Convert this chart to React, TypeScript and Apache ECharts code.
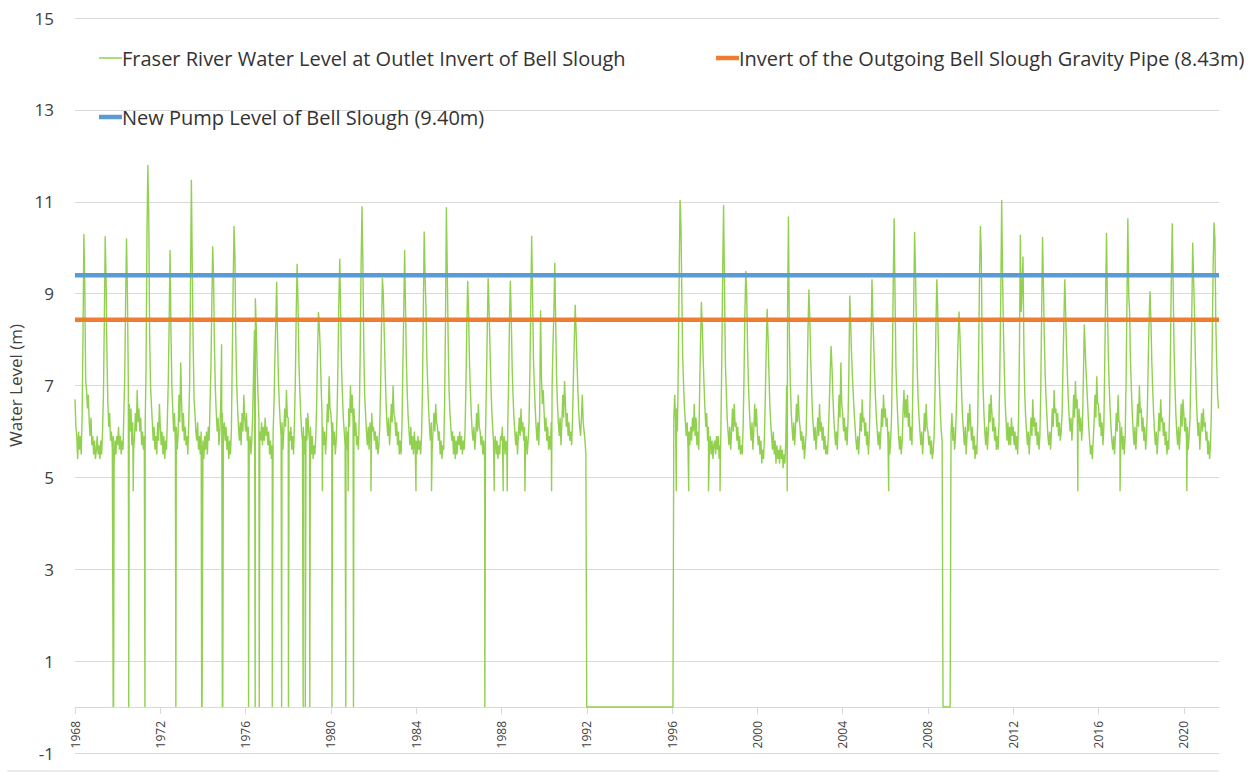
import React, { useEffect, useRef } from "react";
import * as echarts from "echarts";

// ---- Data (semi-monthly readings: index 0 = Jan 1, 1 = Jan 16, ... 23 = Dec 16) ----
const firstYear = 1968;

const levels1960s = [
  /*1968*/ [6.7, 6.1, 5.9, 5.4, 6.0, 5.6, 5.9, 5.5, 6.3, 8.1, 10.3, 9.2, 7.1, 6.9, 6.5, 6.8, 6.2, 5.9, 6.3, 5.7, 5.9, 5.5, 5.8, 5.4],
  /*1969*/ [5.6, 5.9, 5.5, 5.7, 5.4, 5.8, 5.5, 6.0, 6.8, 8.4, 10.25, 9.3, 7.6, 6.6, 6.1, 6.4, 5.8, 6.0, 5.6, 5.9, 5.3, 5.8, 5.5, 5.9],
];

const levels1970s = [
  /*1970*/ [5.7, 6.1, 5.6, 5.9, 5.5, 5.8, 5.6, 6.4, 7.2, 8.9, 10.2, 9.0, 7.1, 6.6, 6.0, 6.5, 5.7, 6.2, 5.6, 5.9, 6.4, 6.0, 6.9, 6.2],
  /*1971*/ [6.5, 6.0, 6.3, 5.7, 6.0, 5.6, 5.9, 6.2, 7.4, 10.3, 11.8, 10.7, 8.1, 7.0, 6.6, 6.2, 5.8, 6.1, 5.6, 5.9, 5.5, 6.2, 5.8, 6.6],
  /*1972*/ [6.1, 5.7, 6.0, 5.5, 5.9, 5.4, 5.8, 5.6, 6.3, 7.1, 8.4, 9.95, 8.2, 7.0, 6.5, 6.0, 6.4, 5.7, 6.1, 5.6, 5.9, 6.8, 6.2, 7.5],
  /*1973*/ [6.6, 6.0, 6.4, 5.8, 6.1, 5.7, 5.9, 5.5, 6.2, 7.0, 9.2, 11.48, 9.6, 7.9, 6.7, 6.4, 6.0, 5.8, 6.2, 5.6, 5.9, 5.5, 6.0, 5.7],
  /*1974*/ [5.8, 5.4, 5.9, 5.6, 6.0, 5.5, 6.1, 5.8, 6.6, 7.4, 8.8, 10.03, 9.3, 7.8, 6.9, 6.4, 6.0, 6.3, 5.7, 6.0, 6.6, 7.9, 6.4, 6.0],
  /*1975*/ [6.2, 5.8, 6.1, 5.6, 5.9, 5.4, 5.8, 5.5, 6.0, 7.6, 9.2, 10.47, 9.8, 8.0, 7.0, 6.5, 6.1, 5.8, 6.2, 5.7, 6.4, 6.0, 6.8, 6.3],
  /*1976*/ [6.0, 6.4, 5.8, 6.1, 5.6, 5.9, 5.5, 5.8, 6.4, 7.3, 8.2, 8.9, 8.3, 7.4, 6.8, 6.3, 6.0, 5.8, 6.2, 5.7, 6.1, 5.8, 6.3, 5.9],
  /*1977*/ [6.1, 5.7, 6.0, 5.5, 5.8, 5.4, 5.7, 6.0, 6.6, 7.6, 8.4, 9.26, 8.0, 7.1, 6.6, 6.2, 5.9, 6.2, 5.6, 6.0, 6.5, 6.1, 6.9, 6.3],
  /*1978*/ [6.3, 6.0, 5.8, 6.1, 5.6, 5.9, 5.5, 6.2, 7.1, 8.6, 9.65, 8.8, 7.5, 6.9, 6.4, 6.0, 5.8, 6.1, 5.5, 5.9, 6.3, 5.8, 6.4, 6.0],
  /*1979*/ [5.8, 6.1, 5.5, 5.9, 5.4, 5.7, 5.5, 5.9, 6.6, 7.7, 8.6, 8.3, 7.8, 7.0, 6.4, 6.1, 5.7, 6.0, 5.5, 5.9, 6.6, 6.2, 7.2, 6.5],
];

const levels1980s = [
  /*1980*/ [6.4, 6.0, 6.2, 5.7, 6.0, 5.5, 5.8, 6.4, 7.5, 8.9, 9.76, 8.6, 7.4, 6.8, 6.3, 6.0, 5.7, 6.1, 5.6, 6.0, 6.5, 6.1, 7.0, 6.4],
  /*1981*/ [6.8, 6.2, 6.5, 5.9, 6.2, 5.7, 5.9, 5.6, 6.4, 7.7, 9.6, 10.9, 9.7, 7.9, 6.8, 6.4, 6.0, 5.7, 6.1, 5.6, 6.2, 5.8, 6.4, 6.0],
  /*1982*/ [6.1, 5.8, 6.0, 5.6, 5.9, 5.5, 5.7, 6.1, 7.0, 8.3, 9.34, 9.0, 8.2, 7.4, 6.7, 6.2, 5.9, 6.3, 5.7, 6.1, 6.6, 6.2, 7.0, 6.4],
  /*1983*/ [6.3, 5.9, 6.2, 5.7, 6.0, 5.5, 5.8, 5.5, 6.1, 7.4, 8.6, 9.95, 8.7, 7.5, 6.8, 6.3, 6.0, 5.7, 6.1, 5.6, 5.9, 5.5, 6.0, 5.6],
  /*1984*/ [5.8, 5.5, 5.9, 5.6, 5.8, 5.5, 5.9, 6.8, 8.5, 10.35, 9.4, 8.7, 7.6, 7.0, 6.5, 6.1, 5.8, 6.2, 5.6, 6.0, 6.4, 6.0, 6.6, 6.2],
  /*1985*/ [6.1, 5.8, 6.0, 5.5, 5.8, 5.4, 5.7, 5.6, 6.6, 8.4, 10.88, 9.5, 8.0, 6.9, 6.4, 6.1, 5.8, 6.0, 5.5, 5.9, 5.4, 5.8, 5.5, 5.9],
  /*1986*/ [5.7, 6.0, 5.6, 5.9, 5.5, 5.8, 5.6, 6.0, 7.0, 8.3, 9.28, 8.6, 7.5, 6.9, 6.4, 6.0, 5.8, 6.1, 5.6, 5.9, 6.4, 6.0, 6.6, 6.1],
  /*1987*/ [6.0, 5.7, 5.9, 5.5, 5.8, 5.4, 5.9, 7.0, 8.2, 9.34, 8.7, 7.9, 7.1, 6.5, 6.1, 5.8, 5.6, 5.9, 5.5, 5.8, 5.4, 5.7, 5.5, 5.9],
  /*1988*/ [5.8, 6.1, 5.6, 5.9, 5.5, 5.8, 5.6, 6.1, 7.0, 8.4, 9.28, 8.5, 7.4, 6.8, 6.3, 6.0, 5.7, 6.0, 5.5, 5.9, 6.3, 5.9, 6.5, 6.0],
  /*1989*/ [6.2, 5.8, 6.1, 5.6, 5.9, 5.5, 5.8, 6.2, 7.3, 8.8, 10.26, 9.0, 7.6, 7.0, 6.5, 6.1, 5.8, 6.2, 5.7, 6.4, 8.64, 7.2, 6.6, 6.9],
];

const levels1990s = [
  /*1990*/ [6.4, 6.0, 6.3, 5.8, 6.1, 5.6, 5.9, 5.6, 6.2, 7.0, 7.9, 8.6, 9.67, 8.4, 7.2, 6.6, 6.2, 5.9, 6.3, 5.7, 6.2, 6.8, 6.3, 7.1],
  /*1991*/ [6.6, 6.1, 6.4, 5.9, 6.2, 5.8, 6.0, 5.7, 6.3, 7.2, 8.0, 8.76, 8.2, 7.5, 6.9, 6.4, 6.1, 5.9, 6.3, 6.8, 6.2, 6.0, 5.8, 5.5],
  /*1992*/ [0, 0, 0, 0, 0, 0, 0, 0, 0, 0, 0, 0, 0, 0, 0, 0, 0, 0, 0, 0, 0, 0, 0, 0],
  /*1993*/ [0, 0, 0, 0, 0, 0, 0, 0, 0, 0, 0, 0, 0, 0, 0, 0, 0, 0, 0, 0, 0, 0, 0, 0],
  /*1994*/ [0, 0, 0, 0, 0, 0, 0, 0, 0, 0, 0, 0, 0, 0, 0, 0, 0, 0, 0, 0, 0, 0, 0, 0],
  /*1995*/ [0, 0, 0, 0, 0, 0, 0, 0, 0, 0, 0, 0, 0, 0, 0, 0, 0, 0, 0, 0, 0, 0, 0, 0],
  /*1996*/ [0, 0, 6.3, 6.8, 6.2, 6.5, 6.0, 7.4, 9.4, 11.04, 10.5, 9.0, 7.6, 7.0, 6.5, 6.2, 5.9, 6.2, 5.6, 6.0, 5.7, 6.1, 5.8, 6.3],
  /*1997*/ [6.0, 6.6, 5.9, 6.3, 5.7, 6.0, 5.6, 6.8, 7.9, 8.82, 8.3, 7.6, 7.0, 6.5, 6.1, 6.4, 5.8, 6.1, 5.6, 5.9, 5.5, 5.8, 5.4, 5.7],
  /*1998*/ [5.8, 5.5, 5.9, 5.6, 5.9, 5.4, 5.7, 6.1, 7.6, 9.5, 10.93, 9.2, 7.5, 6.9, 6.3, 6.0, 5.7, 6.1, 5.6, 6.0, 6.5, 6.0, 6.6, 6.1],
  /*1999*/ [6.2, 5.8, 6.1, 5.6, 5.9, 5.5, 5.7, 5.5, 6.1, 7.2, 8.6, 9.49, 9.0, 7.8, 7.0, 6.5, 6.1, 5.8, 6.2, 5.6, 6.0, 6.6, 6.1, 6.5],
];

const levels2000s = [
  /*2000*/ [6.0, 5.7, 5.9, 5.5, 5.8, 5.3, 5.6, 5.4, 5.9, 6.8, 7.8, 8.67, 8.1, 7.3, 6.6, 6.2, 5.9, 5.6, 6.0, 5.5, 5.8, 5.3, 5.7, 5.4],
  /*2001*/ [5.6, 5.3, 5.7, 5.4, 5.6, 5.2, 5.5, 5.3, 5.8, 7.0, 8.6, 10.68, 8.2, 7.1, 6.5, 6.1, 5.8, 6.2, 5.7, 6.1, 6.6, 6.2, 6.8, 6.3],
  /*2002*/ [6.1, 5.8, 6.0, 5.6, 5.9, 5.4, 5.7, 6.0, 7.0, 8.2, 9.09, 8.5, 7.6, 7.0, 6.4, 6.1, 5.8, 6.1, 5.6, 5.9, 6.3, 5.9, 6.6, 6.0],
  /*2003*/ [6.2, 5.8, 6.1, 5.6, 5.9, 5.5, 5.7, 5.5, 6.0, 6.6, 7.3, 7.86, 7.4, 6.8, 6.3, 6.0, 5.7, 6.0, 5.6, 6.2, 6.8, 6.3, 7.5, 6.6],
  /*2004*/ [6.4, 6.0, 6.3, 5.8, 6.1, 5.7, 6.2, 7.3, 8.96, 8.4, 7.7, 7.2, 6.8, 6.4, 6.1, 5.8, 5.6, 5.9, 5.5, 5.9, 6.4, 6.0, 6.7, 6.2],
  /*2005*/ [6.3, 5.9, 6.2, 5.7, 6.0, 5.5, 5.9, 6.8, 8.0, 9.31, 8.5, 7.9, 7.2, 6.7, 6.3, 6.0, 5.7, 6.0, 5.6, 6.0, 6.5, 6.1, 6.8, 6.3],
  /*2006*/ [6.5, 6.1, 6.3, 5.8, 6.0, 5.5, 5.8, 6.3, 7.6, 9.3, 10.64, 8.9, 7.4, 6.8, 6.3, 5.9, 5.6, 5.9, 5.5, 5.8, 6.4, 6.9, 6.3, 6.7],
  /*2007*/ [6.3, 6.8, 6.1, 6.4, 5.8, 6.1, 5.7, 7.0, 8.8, 10.34, 9.5, 8.3, 7.3, 6.7, 6.3, 6.0, 5.7, 6.0, 5.5, 5.9, 6.4, 6.0, 6.6, 6.1],
  /*2008*/ [6.0, 5.7, 5.9, 5.5, 5.8, 5.4, 5.6, 5.9, 6.9, 8.3, 9.31, 8.7, 7.6, 7.0, 6.4, 6.0, 5.8, 0, 0, 0, 0, 0, 0, 0],
  /*2009*/ [0, 0, 6.0, 6.4, 5.8, 6.1, 5.6, 5.9, 6.5, 7.3, 8.0, 8.61, 8.1, 7.4, 6.8, 6.3, 6.0, 5.7, 6.1, 5.5, 5.9, 6.4, 6.0, 6.6],
];

const levels2010s = [
  /*2010*/ [6.2, 5.8, 6.1, 5.6, 5.9, 5.4, 5.7, 5.5, 6.2, 7.6, 9.3, 10.47, 9.9, 8.0, 7.0, 6.4, 6.0, 5.7, 6.1, 5.6, 6.0, 6.6, 6.2, 6.8],
  /*2011*/ [6.4, 6.0, 6.3, 5.8, 6.1, 5.6, 5.9, 5.6, 6.2, 7.4, 9.0, 11.04, 9.4, 8.2, 7.3, 6.6, 6.2, 5.8, 6.2, 5.7, 6.1, 5.7, 6.3, 5.9],
  /*2012*/ [6.1, 5.7, 6.0, 5.6, 5.9, 5.5, 6.3, 7.8, 10.28, 8.6, 9.1, 9.81, 7.8, 6.8, 6.3, 6.0, 5.7, 6.0, 5.5, 5.9, 6.3, 5.9, 6.7, 6.1],
  /*2013*/ [6.3, 5.9, 6.2, 5.7, 6.0, 5.6, 5.9, 6.9, 8.6, 10.23, 9.2, 8.0, 7.2, 6.7, 6.3, 5.9, 5.7, 6.0, 5.6, 6.0, 6.5, 6.1, 6.9, 6.4],
  /*2014*/ [6.5, 6.1, 6.4, 5.9, 6.2, 5.8, 6.0, 6.4, 7.4, 8.4, 9.31, 8.6, 7.8, 7.2, 6.7, 6.3, 6.0, 6.3, 5.8, 6.2, 6.8, 6.3, 7.1, 6.5],
  /*2015*/ [6.7, 6.2, 6.5, 6.0, 6.3, 5.8, 6.2, 7.2, 8.33, 7.8, 7.3, 6.9, 6.5, 6.1, 5.8, 5.5, 5.7, 5.4, 5.8, 6.2, 6.8, 6.3, 7.2, 6.6],
  /*2016*/ [6.6, 6.1, 6.4, 5.9, 6.2, 5.7, 6.1, 7.5, 9.0, 10.32, 8.8, 7.7, 7.0, 6.5, 6.1, 5.8, 5.6, 5.9, 5.5, 5.9, 6.4, 6.0, 6.8, 6.2],
  /*2017*/ [6.2, 5.8, 6.1, 5.6, 5.9, 5.5, 5.9, 7.1, 8.8, 10.64, 9.0, 8.6, 7.5, 6.9, 6.4, 6.0, 5.7, 6.1, 5.6, 6.0, 6.6, 6.1, 7.0, 6.4],
  /*2018*/ [6.5, 6.0, 6.3, 5.8, 6.1, 5.6, 5.9, 6.5, 7.6, 8.5, 9.05, 8.4, 7.5, 6.9, 6.4, 6.0, 5.7, 6.0, 5.5, 5.9, 6.4, 6.0, 6.7, 6.2],
  /*2019*/ [6.3, 5.9, 6.2, 5.7, 6.0, 5.5, 5.8, 5.6, 6.4, 7.8, 9.4, 10.53, 9.2, 7.8, 7.0, 6.4, 6.0, 5.7, 6.1, 5.6, 6.0, 6.6, 6.1, 6.7],
];

const levels2020s = [
  /*2020*/ [6.4, 6.0, 6.3, 5.8, 6.1, 5.6, 5.9, 6.3, 7.4, 8.6, 10.11, 9.3, 8.6, 7.6, 6.8, 6.3, 5.9, 6.2, 5.6, 6.0, 6.4, 6.0, 6.5, 6.1],
  /*2021*/ [6.2, 5.8, 6.0, 5.5, 5.8, 5.4, 5.7, 6.4, 8.0, 9.6, 10.55, 10.2, 8.4, 7.5, 6.8, 6.5],
];

// Short drop-outs of the record to 0 m (decimal year)
const dropoutsToZero = [
  1969.79, 1969.81, 1970.52, 1971.28, 1972.73, 1973.94, 1973.96, 1974.91, 1974.93,
  1976.14, 1976.45, 1976.64, 1977.25, 1977.69, 1978.01, 1978.03, 1978.70, 1978.80,
  1979.01, 1979.03, 1980.05, 1980.70, 1981.06, 1981.08, 1987.22,
];

// Short dips to a low reading (decimal year, level)
const dipsToLow: [number, number][] = [
  [1970.73, 4.7], [1979.6, 4.7], [1980.81, 4.7], [1981.88, 4.7], [1983.99, 4.7],
  [1984.72, 4.7], [1987.66, 4.7], [1988.08, 4.7], [1988.27, 4.7], [1989.1, 4.7],
  [1990.35, 4.7], [1996.2, 4.7], [1996.78, 4.7], [1997.71, 4.7], [1998.25, 4.7],
  [2001.4, 4.7], [2006.16, 4.7], [2015.03, 4.7], [2017.01, 4.7], [2020.14, 4.7],
];

const pipeInvertLevel = 8.43;
const pumpLevel = 9.4;
const xStart = 1968;
const xEnd = 2021.65;
const yearTicks = [1968, 1972, 1976, 1980, 1984, 1988, 1992, 1996, 2000, 2004, 2008, 2012, 2016, 2020];

const riverName = "Fraser River Water Level at Outlet Invert of Bell Slough";
const pipeName = "Invert of the Outgoing Bell Slough Gravity Pipe (8.43m)";
const pumpName = "New Pump Level of Bell Slough (9.40m)";

const FONT = "'Open Sans', 'Liberation Sans', sans-serif";

function buildRiverSeries(): [number, number][] {
  const rows = [...levels1960s, ...levels1970s, ...levels1980s, ...levels1990s, ...levels2000s, ...levels2010s, ...levels2020s];
  const pts: [number, number][] = [];
  rows.forEach((row, k) => {
    row.forEach((v, i) => pts.push([firstYear + k + i / 24, v]));
  });
  dropoutsToZero.forEach((t) => pts.push([t, 0]));
  dipsToLow.forEach(([t, v]) => pts.push([t, v]));
  pts.sort((a, b) => a[0] - b[0]);
  return pts;
}

export default function App() {
  const ref = useRef<HTMLDivElement>(null);

  useEffect(() => {
    if (!ref.current) return;
    const chart = echarts.init(ref.current, undefined, { renderer: "svg" });
    const legendCommon = {
      orient: "horizontal",
      padding: 0,
      itemGap: 0,
      selectedMode: false,
      icon: "rect",
      itemWidth: 23,
      textStyle: { fontFamily: FONT, fontSize: 20, color: "#333", padding: [0, 0, 0, -5] },
    };
    chart.setOption({
      animation: false,
      backgroundColor: "#fff",
      textStyle: { fontFamily: FONT },
      grid: {
        left: 75,
        right: 35,
        top: 18,
        bottom: 19,
        containLabel: false,
        outerBounds: { left: -200, top: -200, right: -200, bottom: -200 },
      },
      legend: [
        { ...legendCommon, data: [riverName], left: 99, top: 48, itemHeight: 1.5 },
        { ...legendCommon, data: [pipeName], left: 716, top: 48, itemHeight: 4.5 },
        { ...legendCommon, data: [pumpName], left: 99, top: 107, itemHeight: 4.5 },
      ],
      xAxis: {
        type: "value",
        position: "bottom",
        offset: -46,
        min: xStart,
        max: xEnd,
        interval: 4,
        splitLine: { show: false },
        axisLine: { show: true, onZero: false, lineStyle: { color: "#d9d9d9", width: 1 } },
        axisTick: { show: true, length: 7, customValues: yearTicks, lineStyle: { color: "#d9d9d9" } },
        axisLabel: {
          show: true,
          rotate: 90,
          margin: 14,
          fontSize: 12,
          fontFamily: FONT,
          color: "#404040",
          customValues: yearTicks,
          formatter: (v: number) => String(Math.round(v)),
        },
      },
      yAxis: {
        type: "value",
        min: -1,
        max: 15,
        interval: 2,
        name: "Water Level (m)",
        nameLocation: "middle",
        nameGap: 47,
        nameTextStyle: { fontFamily: FONT, fontSize: 17, color: "#404040" },
        axisLine: { show: false },
        axisTick: { show: false },
        axisLabel: { margin: 21, fontSize: 17, fontFamily: FONT, color: "#404040" },
        splitLine: { show: true, lineStyle: { color: "#d9d9d9", width: 1 } },
      },
      series: [
        {
          name: riverName,
          type: "line",
          data: buildRiverSeries(),
          showSymbol: false,
          symbol: "none",
          color: "#92D050",
          lineStyle: { color: "#92D050", width: 1.4 },
          z: 2,
        },
        {
          name: pipeName,
          type: "line",
          data: [[xStart, pipeInvertLevel], [xEnd, pipeInvertLevel]],
          showSymbol: false,
          symbol: "none",
          color: "#ED7D31",
          lineStyle: { color: "#ED7D31", width: 4.5 },
          z: 3,
        },
        {
          name: pumpName,
          type: "line",
          data: [[xStart, pumpLevel], [xEnd, pumpLevel]],
          showSymbol: false,
          symbol: "none",
          color: "#5B9BD5",
          lineStyle: { color: "#5B9BD5", width: 4.5 },
          z: 4,
        },
      ],
      graphic: [
        { type: "line", silent: true, shape: { x1: 7, y1: 771, x2: 1219, y2: 771 }, style: { stroke: "#d9d9d9", lineWidth: 1 } },
      ],
    });
    return () => chart.dispose();
  }, []);

  return (
    <div
      ref={ref}
      style={{ position: "fixed", left: 0, top: 0, width: 1254, height: 772, background: "#fff" }}
    />
  );
}
